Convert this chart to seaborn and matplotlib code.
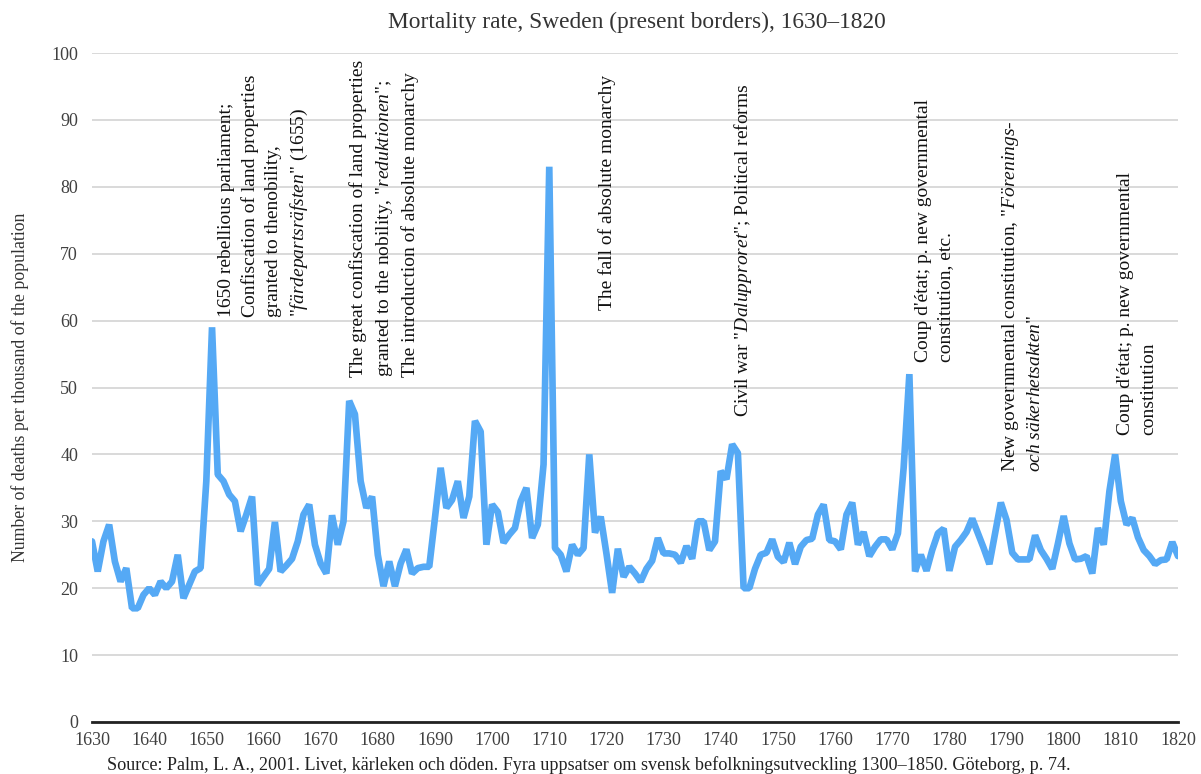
"""
Mortality rate in Sweden (present borders), 1630-1820, with political events
"""

import numpy as np
import seaborn as sns
from matplotlib import pyplot as plt

sns.set_style('white')
plt.rcParams['font.family'] = ['Liberation Serif', 'DejaVu Serif']
plt.rcParams['mathtext.fontset'] = 'custom'
plt.rcParams['mathtext.rm'] = 'Liberation Serif'
plt.rcParams['mathtext.it'] = 'Liberation Serif:italic'

#------------------------------------------------------------------------------
# Data (deaths per thousand)
#------------------------------------------------------------------------------
years = np.arange(1630, 1821)

rate_1630s = [27, 22.5, 27, 29.5, 24, 21, 23, 17, 17, 19]
rate_1640s = [20, 19, 21, 20, 21, 25, 18.5, 20.5, 22.5, 23]
rate_1650s = [36, 59, 37, 36, 34, 33, 28.5, 31, 33.7, 20.5]
rate_1660s = [21.7, 22.9, 29.9, 22.5, 23.4, 24.4, 27, 31, 32.5, 26.5]
rate_1670s = [23.7, 22.2, 30.9, 26.5, 30, 48, 46, 36, 32, 33.7]
rate_1680s = [25, 20.3, 24, 20.3, 23.7, 25.8, 22.2, 23, 23.2, 23.2]
rate_1690s = [30.5, 38, 32, 33.2, 36, 30.5, 33.7, 45, 43.4, 26.5]
rate_1700s = [32.5, 31.4, 26.8, 28, 29, 33, 35, 27.5, 29.5, 38.5]
rate_1710s = [83, 26, 25, 22.5, 26.5, 25, 26, 40, 28.3, 30.7]
rate_1720s = [25.2, 19.3, 25.9, 21.7, 23.2, 22.2, 21, 22.9, 24.1, 27.5]
rate_1730s = [25.2, 25.2, 25, 23.8, 26.3, 24.4, 30, 30, 25.7, 27]
rate_1740s = [37.5, 36.3, 41.5, 40.2, 20, 20, 22.9, 25, 25.3, 27.3]
rate_1750s = [24.7, 23.9, 26.8, 23.6, 26.2, 27.2, 27.4, 31, 32.5, 27.2]
rate_1760s = [27, 25.8, 31, 32.8, 26.5, 28.4, 24.8, 26.2, 27.3, 27.3]
rate_1770s = [25.8, 28.2, 38, 52, 22.5, 25, 22.6, 25.7, 28.2, 28.9]
rate_1780s = [22.6, 26.2, 27.2, 28.4, 30.4, 28.2, 26, 23.6, 28.2, 32.8]
rate_1790s = [30.2, 25.3, 24.3, 24.3, 24.3, 27.9, 25.7, 24.4, 22.9, 26.7]
rate_1800s = [30.8, 26.7, 24.3, 24.4, 24.8, 22.2, 29, 26.5, 34.5, 40]
rate_1810s = [33, 29.5, 30.5, 27.6, 25.7, 24.8, 23.6, 24.2, 24.3, 26.9]
rate_1820 = [24.8]

rate = (rate_1630s + rate_1640s + rate_1650s + rate_1660s + rate_1670s
        + rate_1680s + rate_1690s + rate_1700s + rate_1710s + rate_1720s
        + rate_1730s + rate_1740s + rate_1750s + rate_1760s + rate_1770s
        + rate_1780s + rate_1790s + rate_1800s + rate_1810s + rate_1820)

# events: (x, y) is the lower-left corner of the rotated text
event_x = [1652.0, 1675.0, 1718.5, 1741.9, 1773.9, 1788.8, 1809.4]
event_y = [60.5, 51.6, 61.6, 45.6, 53.8, 37.4, 42.9]
event_text = [
    '1650 rebellious parliament;\nConfiscation of land properties\n'
    'granted to thenobility,\n"$\\mathit{färdepartsräfsten}$" (1655)',
    'The great confiscation of land properties\n'
    'granted to the nobility, "$\\mathit{reduktionen}$";\n'
    'The introduction of absolute monarchy',
    'The fall of absolute monarchy',
    'Civil war "$\\mathit{Dalupproret}$"; Political reforms',
    'Coup d\'état; p. new governmental\nconstitution, etc.',
    'New governmental constitution, "$\\mathit{Förenings}$-\n'
    '$\\mathit{och\\ säkerhetsakten}$"',
    'Coup d\'état; p. new governmental\nconstitution',
]

#------------------------------------------------------------------------------
# Plot figure
#------------------------------------------------------------------------------
fig = plt.figure(figsize=(12.01, 7.74), dpi=100)
ax = fig.add_axes([92/1201, 1-722/774, 1086/1201, 669/774])

sns.lineplot(x=years, y=rate, color='#55A9F5', linewidth=4.8, ax=ax,
             solid_joinstyle='bevel')

ax.set_xlim(1630, 1820)
ax.set_ylim(0, 100)
ax.set_xticks(np.arange(1630, 1821, 10))
ax.set_yticks(np.arange(0, 101, 10))
ax.grid(axis='y', color='#d9d9d9', linewidth=1.4)
ax.set_axisbelow(True)
ax.tick_params(axis='both', length=0, labelsize=13, colors='#404040')
ax.tick_params(axis='y', pad=10)
ax.tick_params(axis='x', pad=7)

for s in ['top', 'right', 'left']:
    ax.spines[s].set_visible(False)
ax.spines['bottom'].set_color('#222222')
ax.spines['bottom'].set_linewidth(2)

ax.set_ylabel('Number of deaths per thousand of the population',
              fontsize=12.8, color='#333333')
ax.yaxis.set_label_coords(-0.058, 0.5)

for x, y, t in zip(event_x, event_y, event_text):
    ax.text(x, y, t, rotation=90, ha='left', va='bottom',
            multialignment='left', fontsize=14, color='#111111',
            linespacing=1.45)

fig.text(637/1201, 1-22/774, 'Mortality rate, Sweden (present borders), 1630–1820',
         ha='center', va='center', fontsize=16.8, color='#333333')
fig.text(589/1201, 1-765/774,
         'Source: Palm, L. A., 2001. Livet, kärleken och döden. Fyra uppsatser om '
         'svensk befolkningsutveckling 1300–1850. Göteborg, p. 74.',
         ha='center', va='center', fontsize=13.1, color='#222222')

#------------------------------------------------------------------------------
# Save figure
#------------------------------------------------------------------------------
plt.savefig('out.png', dpi=100)
